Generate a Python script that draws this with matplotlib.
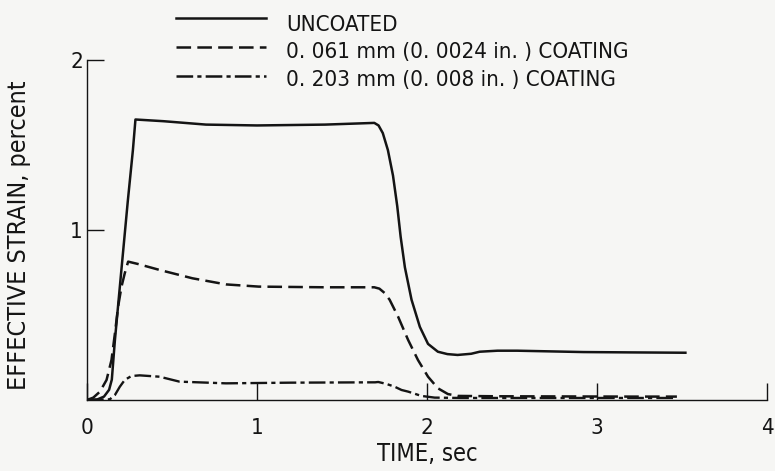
import matplotlib
matplotlib.use('Agg')
import matplotlib.pyplot as plt

plt.rcParams['font.family'] = ['DejaVu Sans']
plt.rcParams['font.stretch'] = 'condensed'
plt.rcParams['lines.scale_dashes'] = False

# time, sec
t_uncoated = [0, 0.06, 0.10, 0.13, 0.146, 0.164, 0.20, 0.24, 0.27, 0.285,
              0.45, 0.7, 1.0, 1.4, 1.69, 1.715, 1.74, 1.77, 1.80, 1.825, 1.845,
              1.87, 1.909, 1.958, 2.006, 2.064, 2.12, 2.18, 2.26, 2.31, 2.415,
              2.53, 2.92, 3.2, 3.52]
y_uncoated = [0, 0.003, 0.02, 0.06, 0.12, 0.35, 0.74, 1.17, 1.47, 1.65,
              1.64, 1.62, 1.615, 1.62, 1.63, 1.615, 1.57, 1.47, 1.32, 1.14, 0.96,
              0.78, 0.59, 0.43, 0.33, 0.284, 0.27, 0.265, 0.272, 0.284, 0.29,
              0.29, 0.282, 0.28, 0.278]

t_thin = [0, 0.037, 0.076, 0.115, 0.144, 0.164, 0.183, 0.203, 0.222, 0.242,
          0.30, 0.427, 0.62, 0.817, 1.01, 1.40, 1.69, 1.72, 1.75, 1.78, 1.83,
          1.889, 1.947, 2.006, 2.064, 2.123, 2.18, 2.4, 2.8, 3.2, 3.47]
y_thin = [0, 0.014, 0.049, 0.118, 0.235, 0.39, 0.549, 0.667, 0.745, 0.814,
          0.80, 0.765, 0.716, 0.68, 0.667, 0.663, 0.663, 0.655, 0.63, 0.59, 0.49,
          0.353, 0.235, 0.137, 0.069, 0.035, 0.024, 0.022, 0.021, 0.02, 0.02]

t_thick = [0, 0.134, 0.164, 0.193, 0.222, 0.261, 0.31, 0.427, 0.544, 0.817,
           1.2, 1.695, 1.713, 1.76, 1.81, 1.85, 1.89, 1.967, 2.045, 2.2,
           2.6, 3.0, 3.45]
y_thick = [0, 0.004, 0.029, 0.078, 0.118, 0.141, 0.145, 0.137, 0.108, 0.098,
           0.102, 0.104, 0.106, 0.095, 0.078, 0.059, 0.049, 0.024, 0.014, 0.012,
           0.012, 0.012, 0.012]

labels = ['UNCOATED', '0. 061 mm (0. 0024 in. ) COATING', '0. 203 mm (0. 008 in. ) COATING']

ink = '#141414'
bg = '#f6f6f4'
solid = '-'
dashed = (0, (10.5, 4.5))
dashdot = (0, (12, 3, 3, 3))

fig = plt.figure(figsize=(7.75, 4.71), dpi=100, facecolor=bg)
ax = fig.add_axes([87 / 775, 1 - 400 / 471, 680 / 775, 340 / 471])
ax.set_facecolor(bg)

ax.plot(t_uncoated, y_uncoated, color=ink, lw=1.8, linestyle=solid)
ax.plot(t_thin, y_thin, color=ink, lw=1.8, linestyle=dashed)
ax.plot(t_thick, y_thick, color=ink, lw=1.7, linestyle=dashdot)

ax.set_xlim(0, 4)
ax.set_ylim(0, 2)
ax.set_xticks([0, 1, 2, 3, 4])
ax.set_yticks([1, 2])
ax.spines['top'].set_visible(False)
ax.spines['right'].set_visible(False)
for s in ['left', 'bottom']:
    ax.spines[s].set_color(ink)
    ax.spines[s].set_linewidth(1.0)
ax.tick_params(direction='in', length=12, width=1.0, colors=ink, labelsize=16)
ax.tick_params(axis='x', pad=13)
ax.tick_params(axis='y', pad=3)

ax.set_xlabel('TIME, sec', fontsize=17, color=ink)
ax.xaxis.set_label_coords(0.5, -0.125)
ax.set_ylabel('EFFECTIVE STRAIN, percent', fontsize=18, color=ink)
ax.yaxis.set_label_coords(-0.083, 0.485)

# legend drawn above the plot area
styles = [solid, dashed, dashdot]
line_y = [2.245, 2.075, 1.906]
text_y = [2.17, 2.01, 1.845]
for style, ly, ty, lab in zip(styles, line_y, text_y, labels):
    ax.plot([0.526, 1.053], [ly, ly], color=ink, lw=1.8, linestyle=style, clip_on=False)
    ax.text(1.17, ty, lab, fontsize=16, color=ink, va='baseline', ha='left')

fig.savefig('out.png', dpi=100, facecolor=bg)
